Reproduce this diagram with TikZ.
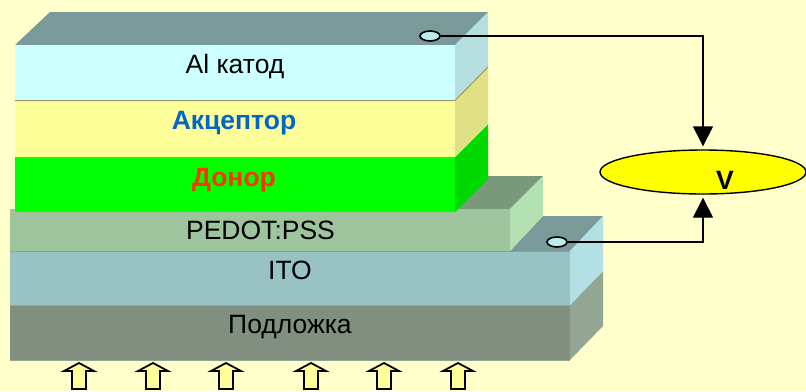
\documentclass[tikz,border=0pt]{standalone}
\usepackage{fontspec}
\setmainfont{Liberation Sans}
\usetikzlibrary{arrows.meta,shapes.geometric,calc}
\definecolor{bgc}{HTML}{FFFFCC}
\definecolor{topa}{HTML}{7A9999}
\definecolor{topb}{HTML}{7A997A}
\definecolor{alf}{HTML}{CCFFFF}
\definecolor{als}{HTML}{B5DFE0}
\definecolor{acf}{HTML}{FFFF99}
\definecolor{acs}{HTML}{E0E085}
\definecolor{acl}{HTML}{9A9A6A}
\definecolor{dof}{HTML}{00FF00}
\definecolor{dos}{HTML}{00D900}
\definecolor{pef}{HTML}{9DC49D}
\definecolor{pes}{HTML}{B2E0B2}
\definecolor{itf}{HTML}{99C2C4}
\definecolor{its}{HTML}{B2E0E4}
\definecolor{suf}{HTML}{808F80}
\definecolor{sus}{HTML}{93A593}
\definecolor{blu}{HTML}{0066CC}
\definecolor{redd}{HTML}{FF3300}
\definecolor{vfill}{HTML}{FFFF00}
\tikzset{
  lab/.style={font=\fontsize{26.5}{28}\selectfont,text=black,inner sep=0pt},
  labb/.style={font=\fontsize{26.5}{28}\selectfont\bfseries,inner sep=0pt},
  elec/.style={draw=black,line width=1.6pt,fill=alf!80!topa,ellipse,minimum width=20pt,minimum height=10pt,inner sep=0pt},
  wire/.style={draw=black,line width=1.4pt,-{Triangle[length=20pt,width=20pt]},shorten >=3pt},
  sunarrow/.style={draw=black,line width=1.8pt,fill=acf,line join=miter}
}
\newcommand{\sunup}[1]{%
  \draw[sunarrow] (#1-7,389) -- (#1-7,371) -- (#1-15,371) -- (#1,363) -- (#1+15,371) -- (#1+7,371) -- (#1+7,389) -- cycle;}
\begin{document}
\begin{tikzpicture}[x=1pt,y=-1pt]
\useasboundingbox (0,0) rectangle (806,391);
\fill[bgc] (0,0) rectangle (806,391);
% substrate
\fill[sus] (570,305) -- (603,271) -- (603,326) -- (570,360) -- cycle;
\fill[suf] (10,305) rectangle (570,360);
\draw[sus,line width=1pt] (10,360) -- (570,360);
% ITO
\fill[topa] (510,251) -- (543,216) -- (603,216) -- (570,251) -- cycle;
\fill[its] (570,251) -- (603,216) -- (603,271) -- (570,305) -- cycle;
\fill[itf] (10,251) rectangle (570,305);
\draw[topa!85!white,line width=1pt] (10,305.5) -- (570,305.5);
% PEDOT
\fill[topb] (455,212) -- (488,176) -- (543,176) -- (510,209) -- (510,212) -- cycle;
\fill[pes] (510,209) -- (543,176) -- (543,216) -- (510,251) -- cycle;
\fill[pef] (10,209) rectangle (510,251);
\draw[topb!70!pef,line width=1pt] (10,251) -- (570,251);
% donor
\fill[dos] (455,157) -- (488,124) -- (488,179) -- (455,212) -- cycle;
\fill[dof] (15,157) rectangle (455,212);
% acceptor
\fill[acs] (455,100) -- (488,67) -- (488,124) -- (455,157) -- cycle;
\fill[acf] (15,100) rectangle (455,157);
% Al
\fill[topa] (15,45) -- (50,12) -- (488,12) -- (455,45) -- cycle;
\fill[als] (455,45) -- (488,12) -- (488,67) -- (455,100) -- cycle;
\fill[alf] (15,45) rectangle (455,100);
\draw[acl,line width=1pt] (15,100.5) -- (455,100.5) -- (488,67);
% labels
\node[lab] (al) at (235,67) {Al катод};
\node[labb,text=blu] (ac) at (234,123) {Акцептор};
\node[labb,text=redd] (do) at (234,180) {Донор};
\node[lab] (pe) at (260.5,230) {PEDOT:PSS};
\node[lab] (it) at (290,270) {ITO};
\node[lab] (su) at (290,327) {Подложка};
% voltmeter
\node[draw=black,line width=1.4pt,fill=vfill,ellipse,minimum width=206pt,minimum height=44pt,inner sep=0pt] (v) at (703,172) {};
\node[labb,text=black] (vl) at (725,180) {V};
% electrodes
\node[elec] (e1) at (430,36) {};
\node[elec] (e2) at (557,242) {};
\draw[wire] (e1.east) -| (v.north);
\draw[wire] (e2.east) -| (v.south);
% light arrows
\sunup{79}\sunup{153}\sunup{226}\sunup{311}\sunup{384}\sunup{458}
\end{tikzpicture}
\end{document}
